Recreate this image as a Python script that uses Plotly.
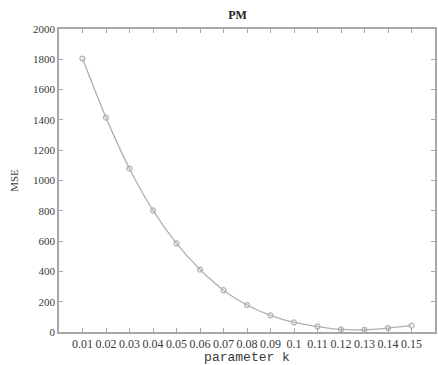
import plotly.graph_objects as go

k_values = [0.01, 0.02, 0.03, 0.04, 0.05, 0.06, 0.07, 0.08, 0.09, 0.10, 0.11, 0.12, 0.13, 0.14, 0.15]
mse_values = [1805, 1415, 1078, 803, 585, 412, 276, 178, 110, 63, 36, 17, 15, 26, 42]
x_tick_vals = [0.01, 0.02, 0.03, 0.04, 0.05, 0.06, 0.07, 0.08, 0.09, 0.10, 0.11, 0.12, 0.13, 0.14, 0.15]
x_tick_text = ["0.01", "0.02", "0.03", "0.04", "0.05", "0.06", "0.07", "0.08", "0.09", "0.1",
               "0.11", "0.12", "0.13", "0.14", "0.15"]
y_tick_vals = [0, 200, 400, 600, 800, 1000, 1200, 1400, 1600, 1800, 2000]

axis_col = "#a8a8a8"
text_col = "#3a3a3a"

fig = go.Figure()
fig.add_trace(go.Scatter(
    x=k_values, y=mse_values, mode="lines+markers",
    line=dict(color="#b0b0b0", width=1.3, shape="spline", smoothing=0.8),
    marker=dict(symbol="circle-open", size=5, color="#b0b0b0", line=dict(width=1.2)),
    showlegend=False,
))

fig.update_layout(
    width=438, height=365,
    margin=dict(l=59, r=1, t=29, b=33),
    paper_bgcolor="white", plot_bgcolor="white",
    font=dict(family="Liberation Serif", size=12, color=text_col),
    title=dict(text="<b>PM</b>", x=0.5424, xanchor="center",
               y=1 - 15 / 365, yanchor="middle",
               font=dict(family="Liberation Serif", size=12, color="#222")),
)
fig.update_xaxes(
    range=[0, 0.16], tickmode="array", tickvals=x_tick_vals, ticktext=x_tick_text,
    showgrid=False, zeroline=False, showline=True, linecolor=axis_col, linewidth=1.5,
    mirror="ticks", ticks="inside", ticklen=4, tickcolor=axis_col,
    tickfont=dict(family="Liberation Serif", size=12, color=text_col),
    title=dict(text="parameter k", font=dict(family="Liberation Mono", size=13, color=text_col),
               standoff=2),
)
fig.update_yaxes(
    range=[0, 2000], tickmode="array", tickvals=y_tick_vals,
    showgrid=False, zeroline=False, showline=True, linecolor=axis_col, linewidth=1.5,
    mirror="ticks", ticks="inside", ticklen=4, tickcolor=axis_col,
    tickfont=dict(family="Liberation Serif", size=11, color=text_col),
    title=dict(text="MSE", font=dict(family="Liberation Serif", size=11, color=text_col),
               standoff=12),
)

fig.write_html("out.html")
